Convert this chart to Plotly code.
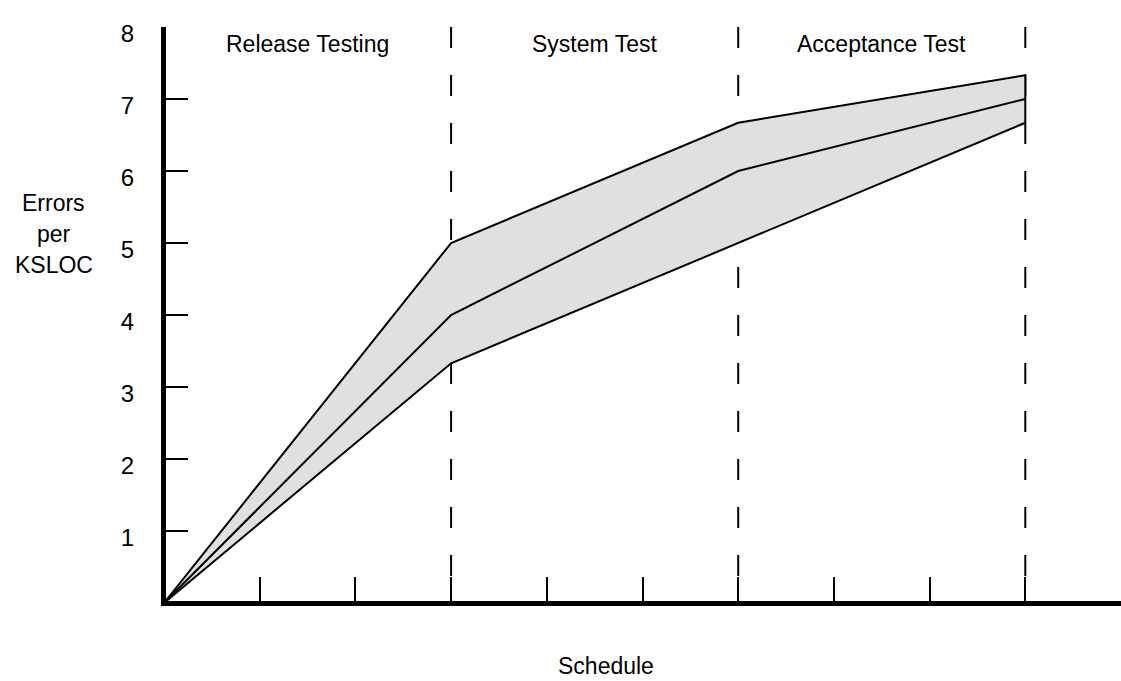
import plotly.graph_objects as go

# ---- data ----
schedule_x = [0, 3, 6, 9]
upper = [0, 5.0, 6.67, 7.33]
middle = [0, 4.0, 6.0, 7.0]
lower = [0, 3.33, 5.0, 6.67]

phase_labels = ["Release Testing", "System Test", "Acceptance Test"]
phase_centers = [1.5, 4.5, 7.5]
phase_bounds = [3, 6, 9]

y_tick_vals = [1, 2, 3, 4, 5, 6, 7, 8]
y_tick_text = ["1", "2", "3", "4", "5", "6", "7", "8"]
x_tick_vals = [1, 2, 3, 4, 5, 6, 7, 8, 9]

y_label_lines = ["Errors", "per", "KSLOC"]
y_label_pos = [5.55, 5.125, 4.69]
x_label = "Schedule"

FONT = "Liberation Sans, Arial, sans-serif"

fig = go.Figure()

# band (closed polygon: upper forward, lower reversed)
fig.add_trace(go.Scatter(
    x=schedule_x + schedule_x[::-1],
    y=upper + lower[::-1],
    mode="lines", fill="toself", fillcolor="#e0e0e0",
    line=dict(color="black", width=2),
    hoverinfo="skip", showlegend=False,
))
fig.add_trace(go.Scatter(
    x=schedule_x, y=middle, mode="lines",
    line=dict(color="black", width=2),
    hoverinfo="skip", showlegend=False,
))

# dashed phase boundaries
for xb in phase_bounds:
    fig.add_shape(type="line", x0=xb, x1=xb, y0=8, y1=0,
                  xref="x", yref="y", layer="below",
                  line=dict(color="black", width=2, dash="21px,27px"))

annotations = []
for lab, xc in zip(phase_labels, phase_centers):
    annotations.append(dict(x=xc, y=7.76, xref="x", yref="y", text=lab,
                            showarrow=False, xanchor="center", yanchor="middle",
                            font=dict(size=23, color="black", family=FONT)))
for lab, yc in zip(y_label_lines, y_label_pos):
    annotations.append(dict(x=-0.1173, y=yc, xref="paper", yref="y", text=lab,
                            showarrow=False, xanchor="center", yanchor="middle",
                            font=dict(size=23, color="black", family=FONT)))
annotations.append(dict(x=4.62, y=-0.1132, xref="x", yref="paper", text=x_label,
                        showarrow=False, xanchor="center", yanchor="middle",
                        font=dict(size=23, color="black", family=FONT)))

fig.update_layout(
    width=1121, height=681,
    margin=dict(l=166, r=0, t=27, b=80),
    paper_bgcolor="white", plot_bgcolor="white",
    annotations=annotations,
    font=dict(family=FONT, color="black", size=23),
    xaxis=dict(range=[0.021, 10.0], showgrid=False, zeroline=False,
               showline=True, linecolor="black", linewidth=5,
               tickmode="array", tickvals=x_tick_vals, ticks="inside",
               ticklen=24, tickwidth=2, tickcolor="black",
               showticklabels=False, fixedrange=True),
    yaxis=dict(range=[0.028, 8.0], showgrid=False, zeroline=False,
               showline=True, linecolor="black", linewidth=5,
               tickmode="array", tickvals=y_tick_vals, ticktext=y_tick_text,
               ticks="inside", ticklen=22, tickwidth=2, tickcolor="black",
               ticklabelstandoff=22, ticklabelshift=7,
               tickfont=dict(size=24, color="black", family=FONT),
               fixedrange=True),
)

fig.write_html("out.html", config={"displayModeBar": False},
               post_script="document.body.style.margin='0';")
